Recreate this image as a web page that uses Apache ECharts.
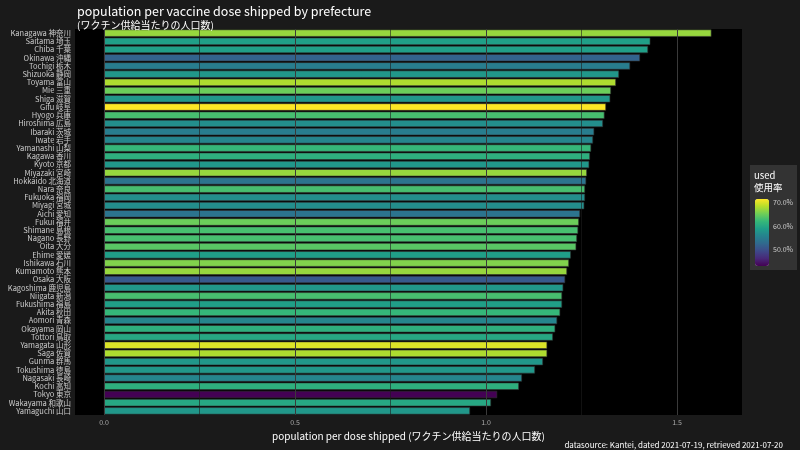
<!DOCTYPE html>
<html>
<head>
<meta charset="utf-8">
<script src="https://cdn.jsdelivr.net/npm/echarts@6/dist/echarts.min.js"></script>
<style>html,body{margin:0;background:#1a1a1a}#chart{width:800px;height:450px}</style>
</head>
<body>
<div id="chart"></div>
<script>
var prefectures = ['Kanagawa 神奈川','Saitama 埼玉','Chiba 千葉','Okinawa 沖縄','Tochigi 栃木','Shizuoka 静岡','Toyama 富山','Mie 三重','Shiga 滋賀','Gifu 岐阜','Hyogo 兵庫','Hiroshima 広島','Ibaraki 茨城','Iwate 岩手','Yamanashi 山梨','Kagawa 香川','Kyoto 京都','Miyazaki 宮崎','Hokkaido 北海道','Nara 奈良','Fukuoka 福岡','Miyagi 宮城','Aichi 愛知','Fukui 福井','Shimane 島根','Nagano 長野','Oita 大分','Ehime 愛媛','Ishikawa 石川','Kumamoto 熊本','Osaka 大阪','Kagoshima 鹿児島','Niigata 新潟','Fukushima 福島','Akita 秋田','Aomori 青森','Okayama 岡山','Tottori 鳥取','Yamagata 山形','Saga 佐賀','Gunma 群馬','Tokushima 徳島','Nagasaki 長崎','Kochi 高知','Tokyo 東京','Wakayama 和歌山','Yamaguchi 山口'];
var perDose = [1.59,1.43,1.424,1.403,1.377,1.348,1.34,1.327,1.325,1.314,1.31,1.306,1.283,1.28,1.275,1.272,1.27,1.264,1.262,1.259,1.259,1.257,1.246,1.243,1.241,1.238,1.236,1.222,1.217,1.212,1.207,1.202,1.199,1.199,1.194,1.186,1.181,1.175,1.16,1.16,1.149,1.128,1.094,1.086,1.029,1.013,0.958];
var used = [67,59,59,52,55,58,68,65,58,71.5,63,57,55,56,62,61,58,67,54,63,57,57,54,65,63,63,64,59,66,67,51,58,63,59,62,56,61,60,70,68,58,58,56,61,43,60,58];
var xTicks = [0, 0.5, 1, 1.5];
var xMinor = [0.25, 0.75, 1.25];

var font = 'Noto Sans CJK JP';
var myChart = echarts.init(document.getElementById('chart'));

var option = {
    backgroundColor: '#1a1a1a',
    textStyle: { fontFamily: font },
    title: [
        { text: 'population per vaccine dose shipped by prefecture', left: 72, top: 0,
          textStyle: { color: '#fff', fontSize: 12.5, fontWeight: 'normal', fontFamily: font } },
        { text: '(ワクチン供給当たりの人口数)', left: 72, top: 15,
          textStyle: { color: '#fff', fontSize: 10, fontWeight: 'normal', fontFamily: font } },
        { text: 'datasource: Kantei, dated 2021-07-19, retrieved 2021-07-20', right: 12, top: 436,
          textStyle: { color: '#fff', fontSize: 8, fontWeight: 'normal', fontFamily: font } }
    ],
    grid: { left: 75, right: 58, top: 29, bottom: 35, backgroundColor: '#000', show: true,
        borderWidth: 0, outerBoundsMode: 'none', containLabel: false },
    xAxis: {
        type: 'value', min: -0.076, max: 1.67,
        name: 'population per dose shipped (ワクチン供給当たりの人口数)',
        nameLocation: 'middle', nameGap: 14,
        nameTextStyle: { color: '#fff', fontSize: 10 },
        axisLine: { show: false },
        splitLine: { show: false },
        axisTick: { customValues: xTicks, length: 3, lineStyle: { color: '#555' } },
        axisLabel: { customValues: xTicks, color: '#aaa', fontSize: 7, margin: 4,
            formatter: function(v) { return v.toFixed(1); } }
    },
    yAxis: {
        type: 'category', data: prefectures, inverse: true,
        name: 'prefken', nameLocation: 'middle', nameGap: 64, nameRotate: 90,
        nameTextStyle: { color: '#fff', fontSize: 10 },
        axisLine: { show: false },
        axisTick: { alignWithLabel: true, length: 3, lineStyle: { color: '#555' } },
        axisLabel: { color: '#ccc', fontSize: 7.5, margin: 4, interval: 0 }
    },
    visualMap: {
        type: 'continuous', dimension: 2, min: 43, max: 71.5,
        left: 755, top: 199, itemWidth: 14, itemHeight: 67,
        text: ['', ''], calculable: false, showLabel: false, padding: 0,
        inRange: { color: ['#440154','#482878','#3e4989','#31688e','#26828e','#1f9e89','#35b779','#6ece58','#b5de2b','#fde725'] },
        textStyle: { color: '#fff' }
    },
    graphic: [
        { type: 'rect', shape: { x: 750, y: 165, width: 47, height: 105 }, style: { fill: '#333' }, z: -1 },
        { type: 'text', left: 754, top: 169, style: { text: 'used\n使用率', fill: '#fff', fontSize: 9.5, fontFamily: font, lineHeight: 12 } },
        { type: 'text', left: 773, top: 199, style: { text: '70.0%', fill: '#ccc', fontSize: 7, fontFamily: font } },
        { type: 'text', left: 773, top: 223, style: { text: '60.0%', fill: '#ccc', fontSize: 7, fontFamily: font } },
        { type: 'text', left: 773, top: 246, style: { text: '50.0%', fill: '#ccc', fontSize: 7, fontFamily: font } }
    ],
    series: [{
        type: 'line', z: 1, data: [], silent: true,
        markLine: {
            symbol: 'none', silent: true, label: { show: false },
            data: xTicks.map(function(v) { return { xAxis: v, lineStyle: { color: '#3a3a3a', width: 1, type: 'solid' } }; })
                .concat(xMinor.map(function(v) { return { xAxis: v, lineStyle: { color: '#1c1c1c', width: 0.6, type: 'solid' } }; }))
        }
    }, {
        type: 'bar', z: 2, barCategoryGap: '12%',
        encode: { x: 0, y: 1 },
        itemStyle: { borderColor: '#333', borderWidth: 0.6 },
        data: prefectures.map(function(p, i) { return [perDose[i], p, used[i]]; })
    }]
};

myChart.setOption(option);
</script>
</body>
</html>
